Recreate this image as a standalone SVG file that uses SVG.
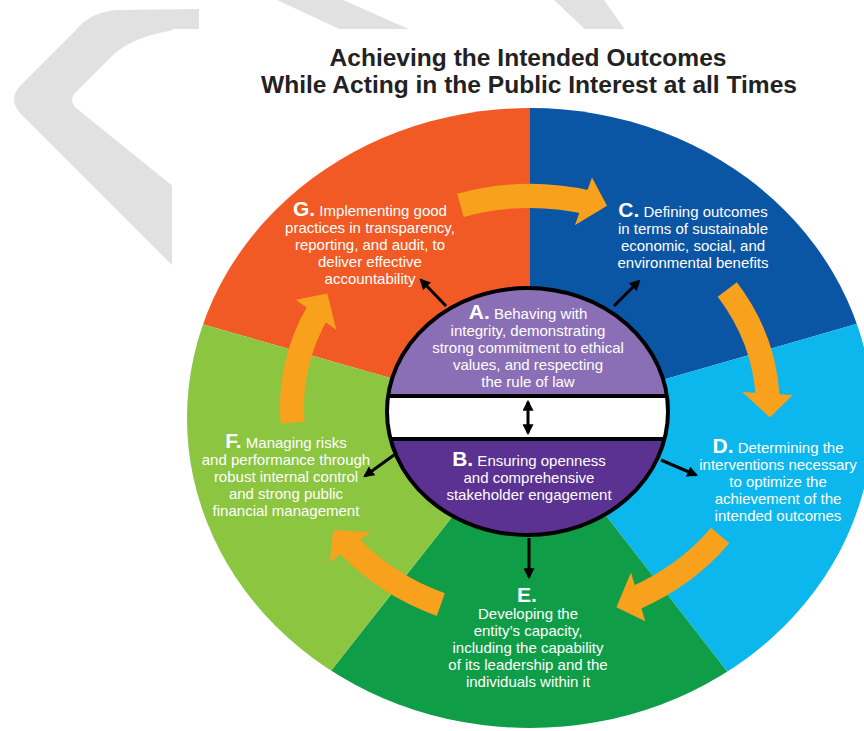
<svg xmlns="http://www.w3.org/2000/svg" width="864" height="731" viewBox="0 0 864 731">
<style>
.t{font-family:"Liberation Sans",Arial,sans-serif;font-size:15px;fill:#ffffff;text-anchor:middle}
.big{font-weight:bold;font-size:21px}
.title{font-family:"Liberation Sans",Arial,sans-serif;font-weight:bold;font-size:23px;fill:#222222;text-anchor:middle}
.oa{fill:none;stroke:#F8A11C;stroke-width:24}
.oh{fill:#F8A11C}
.ba{stroke:#000;stroke-width:3;fill:none;marker-end:url(#ah)}
</style>
<defs>
<marker id="ah" viewBox="0 0 10 10" refX="8" refY="5" markerWidth="11" markerHeight="11" markerUnits="userSpaceOnUse" orient="auto-start-reverse">
<path d="M0,0 L10,5 L0,10 z" fill="#000"/>
</marker>
<clipPath id="outer"><ellipse cx="530" cy="418" rx="343" ry="310"/></clipPath>
<clipPath id="inner"><ellipse cx="527.5" cy="411.5" rx="140.5" ry="123.5"/></clipPath>
</defs>

<g id="watermark" fill="#E1E1E1">
<path d="M199,9 L118,10 Q92,11 76,30 L20,86 Q8,99 20,113 L190,283 L190,200 L76,108 Q68,100 76,92 L112,56 Q132,36 180,29 L199,29 Z"/>
<polygon points="277,0 343,0 420,34 350,34"/>
<polygon points="554,0 604,0 628,34 590,34"/>
</g>
<rect x="172" y="29" width="692" height="702" fill="#ffffff"/>

<g id="title">
<text class="title" x="528" y="66" textLength="397" lengthAdjust="spacingAndGlyphs">Achieving the Intended Outcomes</text>
<text class="title" x="529" y="93" textLength="536" lengthAdjust="spacingAndGlyphs">While Acting in the Public Interest at all Times</text>
</g>

<g id="segments" clip-path="url(#outer)">
<polygon id="segG" points="530,418 -445,139 -445,-200 530,-200" fill="#F15A24"/>
<polygon id="segC" points="530,418 530,-200 1499,-200 1499,139" fill="#0B55A5"/>
<polygon id="segD" points="530,418 1499,139 1499,1446 1330,1446" fill="#0BB7EC"/>
<polygon id="segE" points="530,418 1330,1446 -270,1434" fill="#109D48"/>
<polygon id="segF" points="530,418 -270,1434 -445,1434 -445,139" fill="#8CC540"/>
</g>

<g id="cycle-arrows">
<path class="oa" d="M460.4,205.3 A238,212 0 0,1 587.6,202.3"/>
<polygon class="oh" points="592.0,177.5 607.0,205.8 574.9,225.2"/>
<path class="oa" d="M727.3,289.4 A238,212 0 0,1 767.7,396.9"/>
<polygon class="oh" points="792.8,395.1 769.8,417.4 742.2,391.9"/>
<path class="oa" d="M720.1,535.6 A238,212 0 0,1 634.3,598.5"/>
<polygon class="oh" points="645.2,621.2 616.4,607.2 631.0,572.6"/>
<path class="oa" d="M440.8,604.6 A238,212 0 0,1 347.7,544.3"/>
<polygon class="oh" points="329.8,562.1 333.2,530.2 370.7,532.1"/>
<path class="oa" d="M292.6,422.8 A238,212 0 0,1 317.9,311.8"/>
<polygon class="oh" points="295.9,299.7 327.3,293.6 336.4,330.0"/>
</g>

<g id="connectors">
<line class="ba" x1="446" y1="306" x2="421" y2="280"/>
<line class="ba" x1="614" y1="306" x2="639" y2="281"/>
<line class="ba" x1="394" y1="455" x2="365" y2="476"/>
<line class="ba" x1="661" y1="460" x2="696" y2="475"/>
<line class="ba" x1="529" y1="538" x2="529" y2="577"/>
</g>

<g id="nodeAB">
<g clip-path="url(#inner)">
<rect x="380" y="280" width="300" height="116" fill="#8A6FB6"/>
<rect x="380" y="396" width="300" height="43" fill="#ffffff"/>
<rect x="380" y="439" width="300" height="110" fill="#5B3192"/>
<line x1="380" y1="396" x2="680" y2="396" stroke="#000" stroke-width="4"/>
<line x1="380" y1="439" x2="680" y2="439" stroke="#000" stroke-width="4"/>
</g>
<ellipse cx="527.5" cy="411.5" rx="140.5" ry="123.5" fill="none" stroke="#000" stroke-width="4"/>
<line x1="528" y1="402" x2="528" y2="433" stroke="#000" stroke-width="3" marker-start="url(#ah)" marker-end="url(#ah)"/>
</g>

<g id="nodeA">
<text class="t" x="528" y="319"><tspan class="big">A.</tspan> Behaving with</text>
<text class="t" x="528" y="336">integrity, demonstrating</text>
<text class="t" x="528" y="353">strong commitment to ethical</text>
<text class="t" x="528" y="370">values, and respecting</text>
<text class="t" x="528" y="387">the rule of law</text>
</g>
<g id="nodeB">
<text class="t" x="529" y="466"><tspan class="big">B.</tspan> Ensuring openness</text>
<text class="t" x="529" y="483">and comprehensive</text>
<text class="t" x="529" y="500">stakeholder engagement</text>
</g>
<g id="nodeG">
<text class="t" x="370" y="216"><tspan class="big">G.</tspan> Implementing good</text>
<text class="t" x="370" y="233">practices in transparency,</text>
<text class="t" x="370" y="250">reporting, and audit, to</text>
<text class="t" x="370" y="267">deliver effective</text>
<text class="t" x="370" y="284">accountability</text>
</g>
<g id="nodeC">
<text class="t" x="693" y="217"><tspan class="big">C.</tspan> Defining outcomes</text>
<text class="t" x="693" y="234">in terms of sustainable</text>
<text class="t" x="693" y="251">economic, social, and</text>
<text class="t" x="693" y="268">environmental benefits</text>
</g>
<g id="nodeD">
<text class="t" x="778" y="453"><tspan class="big">D.</tspan> Determining the</text>
<text class="t" x="778" y="470">interventions necessary</text>
<text class="t" x="778" y="487">to optimize the</text>
<text class="t" x="778" y="504">achievement of the</text>
<text class="t" x="778" y="521">intended outcomes</text>
</g>
<g id="nodeE">
<text class="t big" x="527" y="602">E.</text>
<text class="t" x="528" y="619">Developing the</text>
<text class="t" x="528" y="636">entity’s capacity,</text>
<text class="t" x="528" y="653">including the capability</text>
<text class="t" x="528" y="670">of its leadership and the</text>
<text class="t" x="528" y="687">individuals within it</text>
</g>
<g id="nodeF">
<text class="t" x="286" y="448"><tspan class="big">F.</tspan> Managing risks</text>
<text class="t" x="286" y="465">and performance through</text>
<text class="t" x="286" y="482">robust internal control</text>
<text class="t" x="286" y="499">and strong public</text>
<text class="t" x="286" y="516">financial management</text>
</g>
</svg>
